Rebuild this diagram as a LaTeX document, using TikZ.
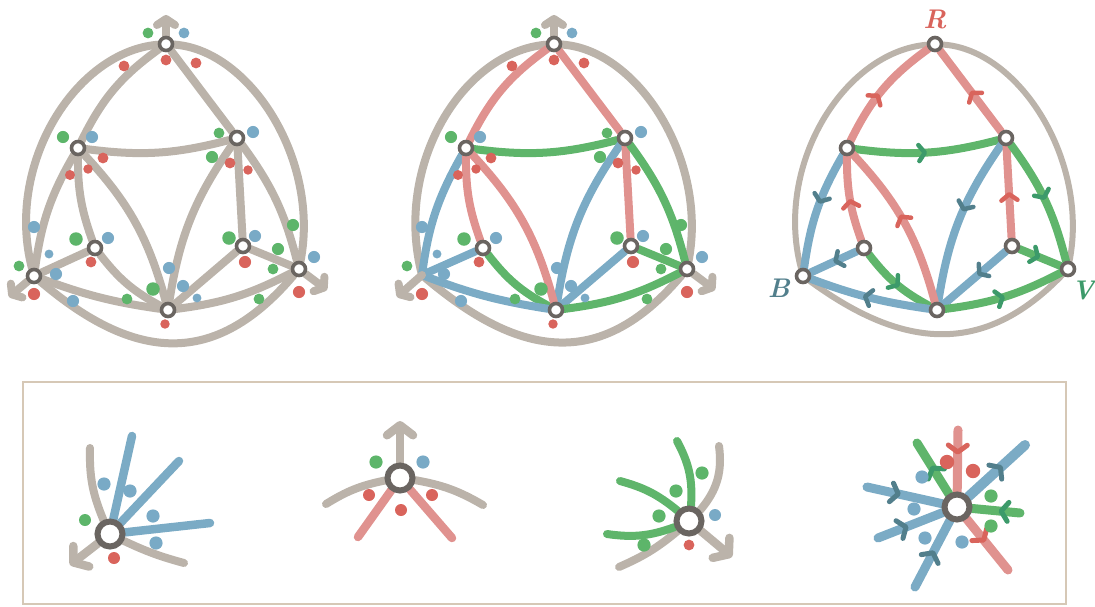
\documentclass[tikz,border=0pt]{standalone}
\usepackage{xcolor}
\usepackage{tikz}
\usetikzlibrary{arrows.meta,decorations.markings,backgrounds}

\definecolor{edgegray}{HTML}{BBB3AA}
\definecolor{edgered}{HTML}{E0928F}
\definecolor{edgeblue}{HTML}{7BABC5}
\definecolor{edgegreen}{HTML}{5FB56B}
\definecolor{dotred}{HTML}{D9645C}
\definecolor{dotblue}{HTML}{79AAC6}
\definecolor{dotgreen}{HTML}{5DB56A}
\definecolor{tipred}{HTML}{D9645C}
\definecolor{tipblue}{HTML}{527F8C}
\definecolor{tipgreen}{HTML}{3C9A6A}
\definecolor{vtxgray}{HTML}{6A6561}
\definecolor{framec}{HTML}{D6C8B6}

\begin{document}
\begin{tikzpicture}[
  x=1pt, y=-1pt,
  vtx/.style={circle, draw=vtxgray, fill=white, line width=3.6pt, minimum size=13pt, inner sep=0pt},
  bigvtx/.style={vtx, line width=6pt, minimum size=25pt},
  gray edge/.style={draw=edgegray, line width=8pt, line cap=round},
  red edge/.style={draw=edgered, line width=8pt, line cap=round},
  blue edge/.style={draw=edgeblue, line width=8pt, line cap=round},
  green edge/.style={draw=edgegreen, line width=8pt, line cap=round},
  out arrow/.style={gray edge, -{Straight Barb[length=6pt,width=18pt,round]}},
  big arrow/.style={gray edge, line width=8.5pt, -{Straight Barb[length=10pt,width=26pt,round]}},
  tipat/.style 2 args={postaction={decorate}, decoration={markings,
    mark=at position #2 with {\arrow[#1]{Straight Barb[length=6pt,width=16pt,line width'=4.5pt,round]}}}},
  bigtipat/.style 2 args={postaction={decorate}, decoration={markings,
    mark=at position #2 with {\arrow[#1]{Straight Barb[length=7pt,width=19pt,line width'=5pt,round]}}}},
  tag/.style={font=\fontsize{27pt}{27pt}\selectfont\bfseries\itshape, inner sep=0pt}
]
\useasboundingbox (0,0) rectangle (1095,606);

% left graph, all grey
\node[vtx] (g1top) at (166,44) {};
\node[vtx] (g1ul) at (78,148) {};
\node[vtx] (g1ur) at (237,138) {};
\node[vtx] (g1il) at (95,248) {};
\node[vtx] (g1ir) at (243,246) {};
\node[vtx] (g1bot) at (168,310) {};
\node[vtx] (g1lft) at (34,276) {};
\node[vtx] (g1rgt) at (299,269) {};
\coordinate (g1up) at (166,15);
\coordinate (g1sw) at (9,297);
\coordinate (g1se) at (327,290);
\begin{scope}[on background layer]
\draw[gray edge] (g1top) .. controls (75,52) and (5,165) .. (g1lft);
\draw[gray edge] (g1top) .. controls (250,50) and (320,160) .. (g1rgt);
\draw[gray edge] (g1lft) .. controls (135,362) and (215,368) .. (g1rgt);
\draw[gray edge] (g1top) to[bend right=14] (g1ul);
\draw[gray edge] (g1top) -- (g1ur);
\draw[gray edge] (g1ul) to[bend right=11] (g1ur);
\draw[gray edge] (g1ul) to[bend right=11] (g1lft);
\draw[gray edge] (g1ul) to[bend right=10] (g1il);
\draw[gray edge] (g1ul) to[bend left=14] (g1bot);
\draw[gray edge] (g1ur) to[bend right=13] (g1bot);
\draw[gray edge] (g1ur) -- (g1ir);
\draw[gray edge] (g1ur) to[bend left=11] (g1rgt);
\draw[gray edge] (g1il) -- (g1lft);
\draw[gray edge] (g1il) to[bend right=12] (g1bot);
\draw[gray edge] (g1ir) -- (g1bot);
\draw[gray edge] (g1ir) -- (g1rgt);
\draw[gray edge] (g1lft) to[bend right=6] (g1bot);
\draw[gray edge] (g1bot) to[bend right=10] (g1rgt);
\draw[out arrow] (g1top) -- (g1up);
\draw[out arrow] (g1lft) -- (g1sw);
\draw[out arrow] (g1rgt) -- (g1se);
\end{scope}

% middle graph, coloured
\begin{scope}[xshift=388pt]
\node[vtx] (g2top) at (166,44) {};
\node[vtx] (g2ul) at (78,148) {};
\node[vtx] (g2ur) at (237,138) {};
\node[vtx] (g2il) at (95,248) {};
\node[vtx] (g2ir) at (243,246) {};
\node[vtx] (g2bot) at (168,310) {};
\coordinate (g2lft) at (34,275);
\node[vtx] (g2rgt) at (299,269) {};
\coordinate (g2up) at (166,15);
\coordinate (g2sw) at (9,297);
\coordinate (g2se) at (327,290);
\begin{scope}[on background layer]
\draw[gray edge] (g2top) .. controls (75,52) and (5,165) .. (g2lft);
\draw[gray edge] (g2top) .. controls (250,50) and (320,160) .. (g2rgt);
\draw[gray edge] (g2lft) .. controls (135,362) and (215,368) .. (g2rgt);
\draw[red edge] (g2top) to[bend right=14] (g2ul);
\draw[red edge] (g2top) -- (g2ur);
\draw[green edge] (g2ul) to[bend right=11] (g2ur);
\draw[blue edge] (g2ul) to[bend right=11] (g2lft);
\draw[red edge] (g2ul) to[bend right=10] (g2il);
\draw[blue edge] (g2ur) to[bend right=13] (g2bot);
\draw[red edge] (g2ur) -- (g2ir);
\draw[green edge] (g2ur) to[bend left=11] (g2rgt);
\draw[blue edge] (g2il) -- (g2lft);
\draw[green edge] (g2il) to[bend right=12] (g2bot);
\draw[blue edge] (g2ir) -- (g2bot);
\draw[green edge] (g2ir) -- (g2rgt);
\draw[blue edge] (g2lft) to[bend right=6] (g2bot);
\draw[green edge] (g2bot) to[bend right=10] (g2rgt);
\draw[red edge] (g2ul) to[bend left=14] (g2bot);
\draw[out arrow] (g2top) -- (g2up);
\draw[out arrow] (g2lft) -- (g2sw);
\draw[out arrow] (g2rgt) -- (g2se);
\end{scope}
\end{scope}

\foreach \gx in {0,388}{
  \begin{scope}[xshift=\gx pt]
  \foreach \dc/\dx/\dy/\dr in {
    dotgreen/148/33/4pt, dotblue/184/33/4pt, dotred/166/60/4pt, dotred/124/66/4pt, dotred/196/63/4pt,
    dotgreen/63/137/4.5pt, dotblue/92/137/4.5pt, dotred/103/158/4pt, dotred/88/169/3.5pt, dotred/70/175/3.7pt,
    dotgreen/219/133/4pt, dotblue/253/132/4.5pt, dotgreen/212/157/4.5pt, dotred/230/163/4pt, dotred/248/170/3.5pt,
    dotgreen/76/239/5pt, dotblue/108/238/4.5pt, dotred/91/262/4pt,
    dotgreen/229/238/5pt, dotblue/255/236/4.5pt, dotred/245/262/4.5pt,
    dotblue/34/227/4.5pt, dotblue/49/254/3.3pt, dotgreen/19/266/4pt, dotblue/56/274/4.5pt, dotred/34/294/4.5pt, dotblue/73/301/4.5pt,
    dotblue/169/268/4.5pt, dotgreen/153/289/5pt, dotblue/183/286/4.5pt, dotgreen/127/299/4pt, dotblue/197/298/3.3pt, dotred/165/324/3.5pt,
    dotgreen/293/225/4.5pt, dotgreen/278/249/4.5pt, dotblue/314/257/4.5pt, dotgreen/273/269/4pt, dotred/299/292/4.5pt, dotgreen/259/299/4pt}
    \fill[\dc] (\dx,\dy) circle[radius=1.35*\dr];
  \end{scope}
}

% right graph, oriented
\begin{scope}[xshift=769pt]
\node[vtx] (g3top) at (166,44) {};
\node[vtx] (g3ul) at (78,148) {};
\node[vtx] (g3ur) at (237,138) {};
\node[vtx] (g3il) at (95,248) {};
\node[vtx] (g3ir) at (243,246) {};
\node[vtx] (g3bot) at (168,310) {};
\node[vtx] (g3lft) at (34,276) {};
\node[vtx] (g3rgt) at (299,269) {};
\node[tag, text=tipred] (labR) at (166,19) {R};
\node[tag, text=tipblue] (labB) at (10,288) {B};
\node[tag, text=tipgreen] (labV) at (314,290) {V};
\begin{scope}[on background layer]
\draw[gray edge, line width=6pt] (g3top) .. controls (75,52) and (5,165) .. (g3lft);
\draw[gray edge, line width=6pt] (g3top) .. controls (250,50) and (320,160) .. (g3rgt);
\draw[gray edge, line width=6pt] (g3lft) .. controls (135,350) and (215,356) .. (g3rgt);
\draw[red edge, tipat={tipred}{.45}] (g3ul) to[bend left=14] (g3top);
\draw[red edge, tipat={tipred}{.5}] (g3ur) -- (g3top);
\draw[green edge, tipat={tipgreen}{.5}] (g3ul) to[bend right=11] (g3ur);
\draw[blue edge, tipat={tipblue}{.45}] (g3ul) to[bend right=11] (g3lft);
\draw[red edge, tipat={tipred}{.5}] (g3il) to[bend left=10] (g3ul);
\draw[blue edge, tipat={tipblue}{.45}] (g3ur) to[bend right=13] (g3bot);
\draw[red edge, tipat={tipred}{.5}] (g3ir) -- (g3ur);
\draw[green edge, tipat={tipgreen}{.5}] (g3ur) to[bend left=11] (g3rgt);
\draw[blue edge, tipat={tipblue}{.5}] (g3il) -- (g3lft);
\draw[green edge, tipat={tipgreen}{.55}] (g3il) to[bend right=12] (g3bot);
\draw[blue edge, tipat={tipblue}{.45}] (g3ir) -- (g3bot);
\draw[green edge, tipat={tipgreen}{.5}] (g3ir) -- (g3rgt);
\draw[blue edge, tipat={tipblue}{.55}] (g3bot) to[bend left=6] (g3lft);
\draw[green edge, tipat={tipgreen}{.5}] (g3bot) to[bend right=10] (g3rgt);
\draw[red edge, tipat={tipred}{.55}] (g3bot) to[bend right=14] (g3ul);
\end{scope}
\end{scope}

% lower panel
\draw[framec, line width=2pt] (23,382) rectangle (1066,604);

\node[bigvtx] (p1) at (110,534) {};
\coordinate (p1a) at (90,448);
\coordinate (p1b) at (184,563);
\coordinate (p1c) at (70,565);
\coordinate (p1d) at (132,436);
\coordinate (p1e) at (179,461);
\coordinate (p1f) at (210,523);
\begin{scope}[on background layer]
\draw[gray edge] (p1a) to[bend right=12] (p1);
\draw[gray edge] (p1) to[bend right=5] (p1b);
\draw[big arrow] (p1) -- (p1c);
\draw[blue edge, line width=8.5pt] (p1) -- (p1d);
\draw[blue edge, line width=8.5pt] (p1) -- (p1e);
\draw[blue edge, line width=8.5pt] (p1) -- (p1f);
\end{scope}

\node[bigvtx] (p2) at (400,478) {};
\coordinate (p2a) at (326,504);
\coordinate (p2b) at (483,505);
\coordinate (p2c) at (400,421);
\coordinate (p2d) at (358,537);
\coordinate (p2e) at (452,538);
\begin{scope}[on background layer]
\draw[gray edge] (p2a) to[bend left=10] (p2);
\draw[gray edge] (p2) to[bend left=10] (p2b);
\draw[big arrow] (p2) -- (p2c);
\draw[red edge, line width=8.5pt] (p2) -- (p2d);
\draw[red edge, line width=8.5pt] (p2) -- (p2e);
\end{scope}

\node[bigvtx] (p3) at (689,521) {};
\coordinate (p3a) at (719,446);
\coordinate (p3b) at (619,567);
\coordinate (p3c) at (732,557);
\coordinate (p3d) at (677,441);
\coordinate (p3e) at (620,481);
\coordinate (p3f) at (607,534);
\begin{scope}[on background layer]
\draw[gray edge] (p3a) to[bend left=24] (p3);
\draw[gray edge] (p3) to[bend left=8] (p3b);
\draw[big arrow] (p3) -- (p3c);
\draw[green edge] (p3d) to[bend left=16] (p3);
\draw[green edge] (p3e) to[bend left=12] (p3);
\draw[green edge] (p3f) to[bend right=14] (p3);
\end{scope}

\node[bigvtx] (p4) at (957,507) {};
\coordinate (p4a) at (958,430);
\coordinate (p4b) at (1008,570);
\coordinate (p4c) at (917,443);
\coordinate (p4d) at (1020,513);
\coordinate (p4e) at (867,487);
\coordinate (p4f) at (1025,445);
\coordinate (p4g) at (878,538);
\coordinate (p4h) at (915,587);
\begin{scope}[on background layer]
\draw[red edge, line width=9pt, bigtipat={tipred}{.4}] (p4a) -- (p4);
\draw[red edge, line width=9pt, bigtipat={tipred}{.45}] (p4) -- (p4b);
\draw[green edge, line width=9pt, bigtipat={tipgreen}{.55}] (p4) -- (p4c);
\draw[green edge, line width=9pt, bigtipat={tipgreen}{.45}] (p4d) -- (p4);
\draw[blue edge, line width=9pt, bigtipat={tipblue}{.45}] (p4e) -- (p4);
\draw[blue edge, line width=10pt, bigtipat={tipblue}{.6}] (p4) -- (p4f);
\draw[blue edge, line width=9pt, bigtipat={tipblue}{.47}] (p4g) -- (p4);
\draw[blue edge, line width=9pt, bigtipat={tipblue}{.55}] (p4h) -- (p4);
\end{scope}

\foreach \dc/\dx/\dy/\dr in {
  dotblue/104/484/5.5pt, dotblue/130/491/5.5pt, dotblue/153/516/5.5pt, dotblue/156/543/5.5pt, dotgreen/85/520/5pt, dotred/114/558/5pt,
  dotgreen/376/462/5.5pt, dotblue/423/462/5.5pt, dotred/369/495/5pt, dotred/432/495/5pt, dotred/401/510/5pt,
  dotgreen/702/473/5.5pt, dotgreen/676/491/5.5pt, dotgreen/659/516/5.5pt, dotgreen/644/545/5.5pt, dotblue/715/515/5pt, dotred/689/545/4.5pt,
  dotred/947/462/6pt, dotred/973/471/6pt, dotblue/922/477/5.5pt, dotgreen/991/496/5.5pt, dotblue/914/509/5.5pt,
  dotgreen/991/526/5.5pt, dotblue/925/538/5.5pt, dotblue/962/542/5.5pt}
  \fill[\dc] (\dx,\dy) circle[radius=1.2*\dr];
\end{tikzpicture}
\end{document}
